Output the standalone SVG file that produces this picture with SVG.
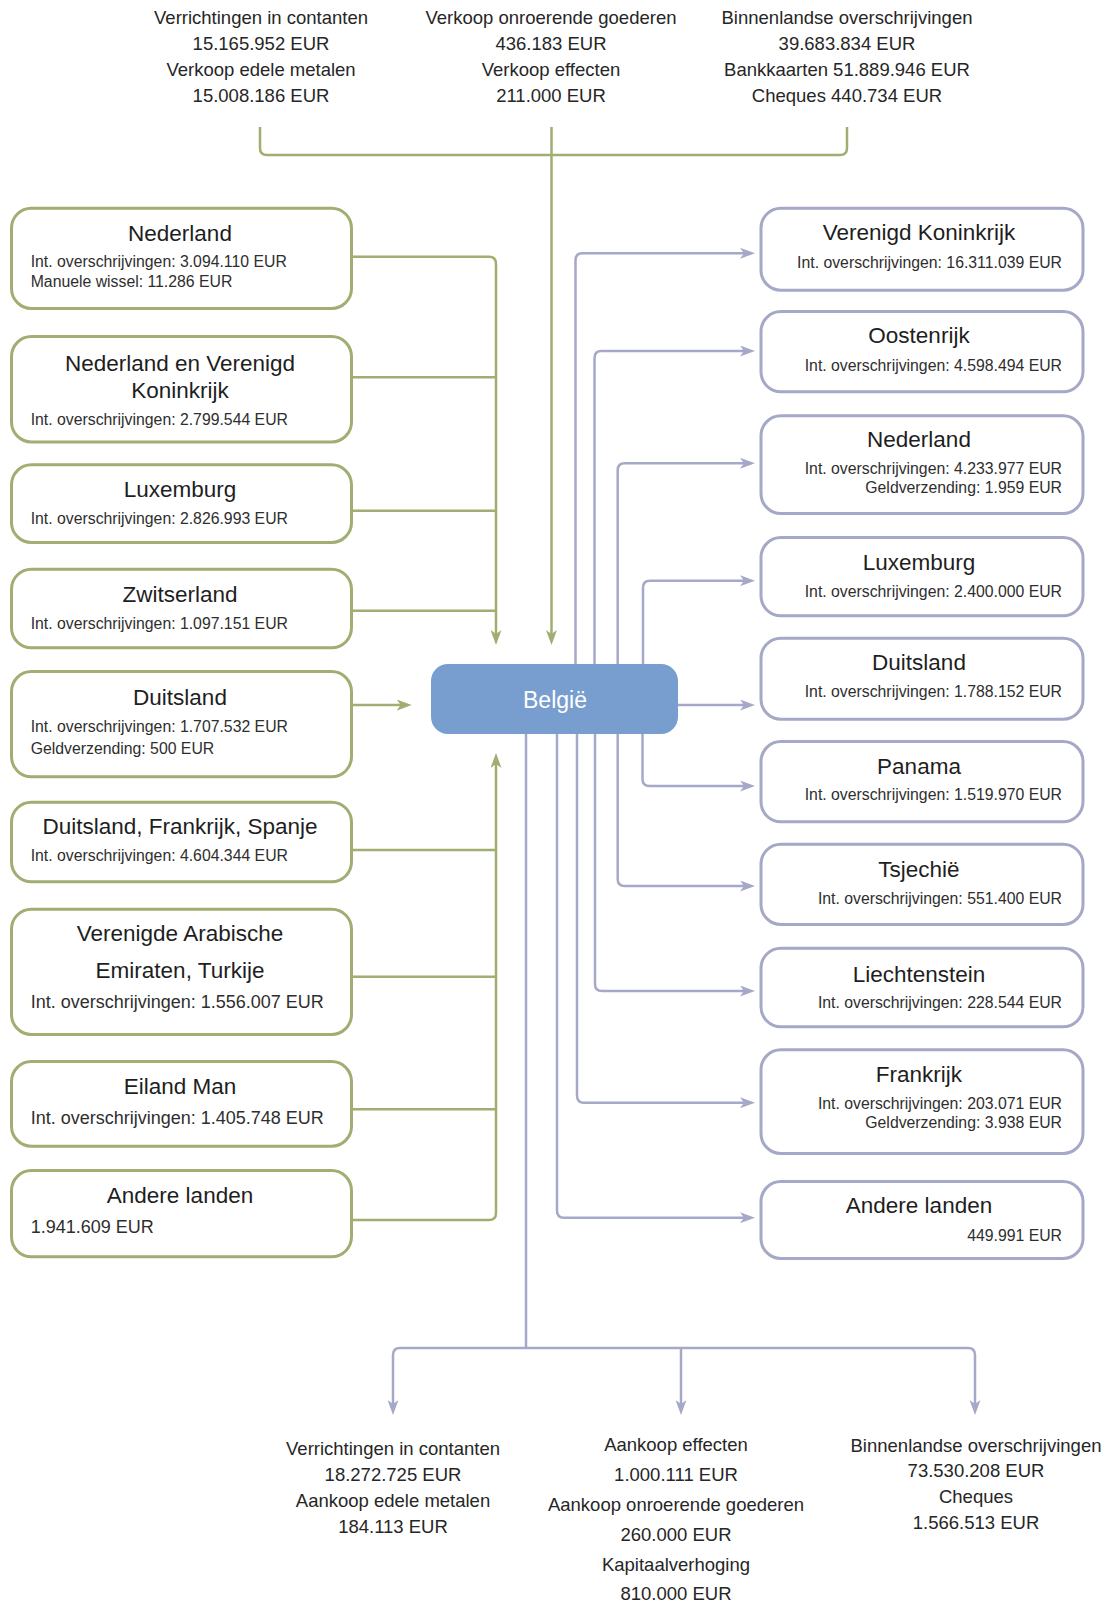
<svg xmlns="http://www.w3.org/2000/svg" width="1110" height="1605" viewBox="0 0 1110 1605">
  <style>
    text { font-family: "Liberation Sans", Arial, sans-serif; fill: #262626; }
    .lbl { font-size: 18.5px; text-anchor: middle; }
    .ttl { font-size: 22.5px; text-anchor: middle; fill: #1e1e1e; }
    .sub { font-size: 15.8px; fill: #2e2e2e; }
    .subl { font-size: 18px; fill: #2e2e2e; }
    .end { text-anchor: end; }
    .in { fill: #fff; stroke: #a0ae72; stroke-width: 3; }
    .out { fill: #fff; stroke: #a5a8c6; stroke-width: 3; }
    .g { fill: none; stroke: #a0ae72; stroke-width: 2.5; }
    .p { fill: none; stroke: #a5a8c6; stroke-width: 2.5; }
    .ga { marker-end: url(#arrG); }
    .pa { marker-end: url(#arrP); }
  </style>
  <defs>
    <marker id="arrG" markerUnits="userSpaceOnUse" markerWidth="15" markerHeight="11" refX="9" refY="5.5" orient="auto">
      <path d="M0,0 L15,5.5 L0,11 L4,5.5 Z" fill="#a0ae72"/>
    </marker>
    <marker id="arrP" markerUnits="userSpaceOnUse" markerWidth="15" markerHeight="11" refX="9" refY="5.5" orient="auto">
      <path d="M0,0 L15,5.5 L0,11 L4,5.5 Z" fill="#a5a8c6"/>
    </marker>
  </defs>

  <!-- incoming domestic flows (top) -->
  <g id="top-labels">
    <text class="lbl" x="261" y="24">Verrichtingen in contanten</text>
    <text class="lbl" x="261" y="50">15.165.952 EUR</text>
    <text class="lbl" x="261" y="75.7">Verkoop edele metalen</text>
    <text class="lbl" x="261" y="101.7">15.008.186 EUR</text>
    <text class="lbl" x="551" y="24">Verkoop onroerende goederen</text>
    <text class="lbl" x="551" y="50">436.183 EUR</text>
    <text class="lbl" x="551" y="75.7">Verkoop effecten</text>
    <text class="lbl" x="551" y="101.7">211.000 EUR</text>
    <text class="lbl" x="847" y="24">Binnenlandse overschrijvingen</text>
    <text class="lbl" x="847" y="50">39.683.834 EUR</text>
    <text class="lbl" x="847" y="75.7">Bankkaarten 51.889.946 EUR</text>
    <text class="lbl" x="847" y="101.7">Cheques 440.734 EUR</text>
  </g>

  <!-- connectors -->
  <g id="connectors">
    <!-- green: inflows -->
    <path class="g" d="M260,127 V148 Q260,155 267,155 H840 Q847,155 847,148 V127"/>
    <path class="g ga" d="M551.5,127 V639"/>
    <path class="g ga" d="M352,256.7 H489 Q496,256.7 496,263.7 V639"/>
    <path class="g" d="M352,377.3 H496"/>
    <path class="g" d="M352,510.7 H496"/>
    <path class="g" d="M352,610.7 H496"/>
    <path class="g ga" d="M352,705 H405.7"/>
    <path class="g ga" d="M352,1220 H489 Q496,1220 496,1213 V759"/>
    <path class="g" d="M352,850 H496"/>
    <path class="g" d="M352,976.7 H496"/>
    <path class="g" d="M352,1109.3 H496"/>

    <!-- purple: outflows -->
    <path class="p pa" d="M575.5,664 V260.3 Q575.5,253.3 582.5,253.3 H749"/>
    <path class="p pa" d="M594.5,664 V358 Q594.5,351 601.5,351 H749"/>
    <path class="p pa" d="M617.7,664 V470.3 Q617.7,463.3 624.7,463.3 H749"/>
    <path class="p pa" d="M643,664 V587.7 Q643,580.7 650,580.7 H749"/>
    <path class="p pa" d="M678,705 H749"/>
    <path class="p pa" d="M642.5,733 V779 Q642.5,786 649.5,786 H749"/>
    <path class="p pa" d="M617.7,733 V879 Q617.7,886 624.7,886 H749"/>
    <path class="p pa" d="M595,733 V984 Q595,991 602,991 H749"/>
    <path class="p pa" d="M577,733 V1095.7 Q577,1102.7 584,1102.7 H749"/>
    <path class="p pa" d="M557,733 V1210.7 Q557,1217.7 564,1217.7 H749"/>
    <path class="p" d="M526,733 V1348"/>
    <path class="p pa" d="M526,1348 H400 Q393,1348 393,1355 V1409"/>
    <path class="p pa" d="M526,1348 H968 Q975,1348 975,1355 V1409"/>
    <path class="p pa" d="M681,1348 V1409"/>
  </g>

  <!-- central node -->
  <g id="node-belgie">
    <rect x="431" y="664" width="247" height="70" rx="17" fill="#789dcf"/>
    <text x="555" y="708.3" style="font-size:23px;text-anchor:middle;fill:#fff">België</text>
  </g>

  <!-- origin countries (left) -->
  <g id="in-nederland">
    <rect class="in" x="11.5" y="208.2" width="340" height="100.3" rx="20"/>
    <text class="ttl" x="180" y="240.7">Nederland</text>
    <text class="sub" x="30.7" y="266.7">Int. overschrijvingen: 3.094.110 EUR</text>
    <text class="sub" x="30.7" y="287.3">Manuele wissel: 11.286 EUR</text>
  </g>
  <g id="in-nederland-vk">
    <rect class="in" x="11.5" y="336.5" width="340" height="105.5" rx="20"/>
    <text class="ttl" x="180" y="370.7">Nederland en Verenigd</text>
    <text class="ttl" x="180" y="397.7">Koninkrijk</text>
    <text class="sub" x="30.7" y="425">Int. overschrijvingen: 2.799.544 EUR</text>
  </g>
  <g id="in-luxemburg">
    <rect class="in" x="11.5" y="464.8" width="340" height="77.7" rx="20"/>
    <text class="ttl" x="180" y="497.3">Luxemburg</text>
    <text class="sub" x="30.7" y="524">Int. overschrijvingen: 2.826.993 EUR</text>
  </g>
  <g id="in-zwitserland">
    <rect class="in" x="11.5" y="569.2" width="340" height="78.6" rx="20"/>
    <text class="ttl" x="180" y="602.3">Zwitserland</text>
    <text class="sub" x="30.7" y="629">Int. overschrijvingen: 1.097.151 EUR</text>
  </g>
  <g id="in-duitsland">
    <rect class="in" x="11.5" y="671.5" width="340" height="105.3" rx="20"/>
    <text class="ttl" x="180" y="705">Duitsland</text>
    <text class="sub" x="30.7" y="731.7">Int. overschrijvingen: 1.707.532 EUR</text>
    <text class="sub" x="30.7" y="754">Geldverzending: 500 EUR</text>
  </g>
  <g id="in-duitsland-frankrijk-spanje">
    <rect class="in" x="11.5" y="802.2" width="340" height="79.6" rx="20"/>
    <text class="ttl" x="180" y="834">Duitsland, Frankrijk, Spanje</text>
    <text class="sub" x="30.7" y="861">Int. overschrijvingen: 4.604.344 EUR</text>
  </g>
  <g id="in-vae-turkije">
    <rect class="in" x="11.5" y="909.2" width="340" height="125.3" rx="20"/>
    <text class="ttl" x="180" y="941">Verenigde Arabische</text>
    <text class="ttl" x="180" y="977.7">Emiraten, Turkije</text>
    <text class="subl" x="30.7" y="1007.7">Int. overschrijvingen: 1.556.007 EUR</text>
  </g>
  <g id="in-eiland-man">
    <rect class="in" x="11.5" y="1061.5" width="340" height="84.7" rx="20"/>
    <text class="ttl" x="180" y="1094">Eiland Man</text>
    <text class="subl" x="30.7" y="1124">Int. overschrijvingen: 1.405.748 EUR</text>
  </g>
  <g id="in-andere-landen">
    <rect class="in" x="11.5" y="1170.5" width="340" height="86.3" rx="20"/>
    <text class="ttl" x="180" y="1202.7">Andere landen</text>
    <text class="subl" x="30.7" y="1232.7">1.941.609 EUR</text>
  </g>

  <!-- destination countries (right) -->
  <g id="out-verenigd-koninkrijk">
    <rect class="out" x="761" y="208.2" width="322" height="82" rx="20"/>
    <text class="ttl" x="919" y="240">Verenigd Koninkrijk</text>
    <text class="sub end" x="1062" y="267.7">Int. overschrijvingen: 16.311.039 EUR</text>
  </g>
  <g id="out-oostenrijk">
    <rect class="out" x="761" y="311.5" width="322" height="80.3" rx="20"/>
    <text class="ttl" x="919" y="343.3">Oostenrijk</text>
    <text class="sub end" x="1062" y="371">Int. overschrijvingen: 4.598.494 EUR</text>
  </g>
  <g id="out-nederland">
    <rect class="out" x="761" y="415.8" width="322" height="97.7" rx="20"/>
    <text class="ttl" x="919" y="447.3">Nederland</text>
    <text class="sub end" x="1062" y="474.3">Int. overschrijvingen: 4.233.977 EUR</text>
    <text class="sub end" x="1062" y="493.3">Geldverzending: 1.959 EUR</text>
  </g>
  <g id="out-luxemburg">
    <rect class="out" x="761" y="537.5" width="322" height="78.3" rx="20"/>
    <text class="ttl" x="919" y="570">Luxemburg</text>
    <text class="sub end" x="1062" y="597.3">Int. overschrijvingen: 2.400.000 EUR</text>
  </g>
  <g id="out-duitsland">
    <rect class="out" x="761" y="638.2" width="322" height="81" rx="20"/>
    <text class="ttl" x="919" y="670">Duitsland</text>
    <text class="sub end" x="1062" y="697.3">Int. overschrijvingen: 1.788.152 EUR</text>
  </g>
  <g id="out-panama">
    <rect class="out" x="761" y="741.5" width="322" height="80.3" rx="20"/>
    <text class="ttl" x="919" y="774">Panama</text>
    <text class="sub end" x="1062" y="800">Int. overschrijvingen: 1.519.970 EUR</text>
  </g>
  <g id="out-tsjechie">
    <rect class="out" x="761" y="844.2" width="322" height="80.3" rx="20"/>
    <text class="ttl" x="919" y="876.7">Tsjechië</text>
    <text class="sub end" x="1062" y="904">Int. overschrijvingen: 551.400 EUR</text>
  </g>
  <g id="out-liechtenstein">
    <rect class="out" x="761" y="948.2" width="322" height="78.6" rx="20"/>
    <text class="ttl" x="919" y="981.7">Liechtenstein</text>
    <text class="sub end" x="1062" y="1008.3">Int. overschrijvingen: 228.544 EUR</text>
  </g>
  <g id="out-frankrijk">
    <rect class="out" x="761" y="1049.8" width="322" height="103.7" rx="20"/>
    <text class="ttl" x="919" y="1081.7">Frankrijk</text>
    <text class="sub end" x="1062" y="1109">Int. overschrijvingen: 203.071 EUR</text>
    <text class="sub end" x="1062" y="1127.7">Geldverzending: 3.938 EUR</text>
  </g>
  <g id="out-andere-landen">
    <rect class="out" x="761" y="1181.5" width="322" height="77" rx="20"/>
    <text class="ttl" x="919" y="1213.3">Andere landen</text>
    <text class="sub end" x="1062" y="1240.7">449.991 EUR</text>
  </g>

  <!-- outgoing domestic flows (bottom) -->
  <g id="bottom-labels">
    <text class="lbl" x="393" y="1455">Verrichtingen in contanten</text>
    <text class="lbl" x="393" y="1480.5">18.272.725 EUR</text>
    <text class="lbl" x="393" y="1507">Aankoop edele metalen</text>
    <text class="lbl" x="393" y="1533">184.113 EUR</text>
    <text class="lbl" x="676" y="1451">Aankoop effecten</text>
    <text class="lbl" x="676" y="1480.5">1.000.111 EUR</text>
    <text class="lbl" x="676" y="1511">Aankoop onroerende goederen</text>
    <text class="lbl" x="676" y="1541">260.000 EUR</text>
    <text class="lbl" x="676" y="1571">Kapitaalverhoging</text>
    <text class="lbl" x="676" y="1600">810.000 EUR</text>
    <text class="lbl" x="976" y="1451.7">Binnenlandse overschrijvingen</text>
    <text class="lbl" x="976" y="1477">73.530.208 EUR</text>
    <text class="lbl" x="976" y="1503">Cheques</text>
    <text class="lbl" x="976" y="1529">1.566.513 EUR</text>
  </g>
</svg>
